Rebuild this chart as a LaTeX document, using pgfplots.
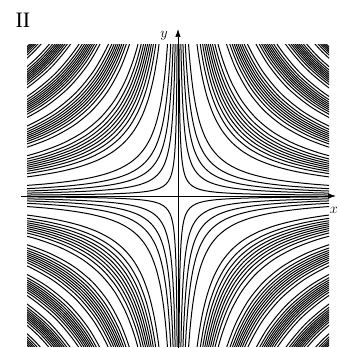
\documentclass[border=0pt]{standalone}
\usepackage{pgfplots}
\pgfplotsset{compat=1.18}
\usepackage{pgfplotstable}
\usetikzlibrary{arrows.meta}
\usepackage{fontspec}
\setmainfont{Liberation Serif}

% unit hyperbola x*y = 1, sampled as (e^s, e^-s), s = -2.6 ... 2.6
\pgfplotstableread{
u w
0.0743 13.4637
0.0907 11.0232
0.1108 9.0250
0.1353 7.3891
0.1653 6.0496
0.2019 4.9530
0.2466 4.0552
0.3012 3.3201
0.3679 2.7183
0.4493 2.2255
0.5488 1.8221
0.6703 1.4918
0.8187 1.2214
1.0000 1.0000
1.2214 0.8187
1.4918 0.6703
1.8221 0.5488
2.2255 0.4493
2.7183 0.3679
3.3201 0.3012
4.0552 0.2466
4.9530 0.2019
6.0496 0.1653
7.3891 0.1353
9.0250 0.1108
11.0232 0.0907
13.4637 0.0743
}\unithyp

\pgfplotsset{cl/.style={black, line width=1pt, smooth, mark=none}}

\begin{document}
\begin{tikzpicture}
\useasboundingbox (-178pt,-152pt) rectangle (160pt,196pt);
\begin{axis}[
  name=ax, at={(0,0)}, anchor=center,
  scale only axis, width=302pt, height=302pt,
  xmin=-4, xmax=4, ymin=-4, ymax=4,
  axis lines=none, clip=true]
% level curves of sin(xy): each value is where the curve meets the diagonal |x| = |y|
\pgfplotsinvokeforeach{
  0.3165, 0.5520, 0.7236, 0.8806, 1.0582,
  1.4219, 1.5382, 1.6180, 1.6843, 1.7440, 1.8005, 1.8564, 1.9145, 1.9791, 2.0643,
  2.2723, 2.3469, 2.3999, 2.4451, 2.4866, 2.5265, 2.5667, 2.6090, 2.6568, 2.7208,
  2.8819, 2.9410, 2.9835, 3.0200, 3.0536, 3.0863, 3.1192, 3.1541, 3.1938, 3.2472,
  3.3833, 3.4338, 3.4703, 3.5017, 3.5307, 3.5590, 3.5876, 3.6180, 3.6527, 3.6995,
  3.8195, 3.8643, 3.8967, 3.9247, 3.9507, 3.9760}{
  \addplot[cl] table[x expr=#1*\thisrow{u},  y expr=#1*\thisrow{w}]  {\unithyp};
  \addplot[cl] table[x expr=-#1*\thisrow{u}, y expr=#1*\thisrow{w}]  {\unithyp};
  \addplot[cl] table[x expr=-#1*\thisrow{u}, y expr=-#1*\thisrow{w}] {\unithyp};
  \addplot[cl] table[x expr=#1*\thisrow{u},  y expr=-#1*\thisrow{w}] {\unithyp};
}
\end{axis}
% coordinate axes
\draw[line width=0.7pt, -{Latex[length=8pt,width=5.5pt]}] (-157pt,0) -- (158pt,0);
\draw[line width=0.7pt, -{Latex[length=8pt,width=5.5pt]}] (0,-152pt) -- (0,167pt);
\node at (-14pt,160pt) {\fontsize{15}{15}\selectfont $y$};
\node at (156pt,-14pt) {\fontsize{15}{15}\selectfont $x$};
\node at (-155pt,176pt) {\fontsize{22}{22}\selectfont II};
\end{tikzpicture}
\end{document}
